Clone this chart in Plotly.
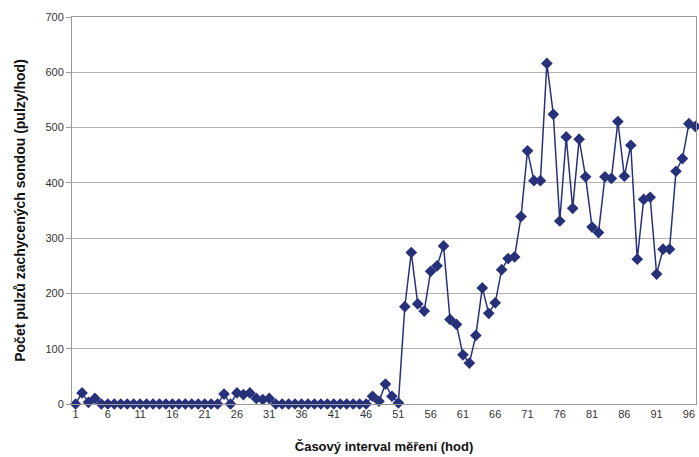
import plotly.graph_objects as go

hours = list(range(1, 98))
pulses = [
    0, 20, 3, 10, 0, 0, 0, 0, 0, 0,          # 1-10
    0, 0, 0, 0, 0, 0, 0, 0, 0, 0,            # 11-20
    0, 0, 0, 18, 0, 20, 17, 20, 10, 8,       # 21-30
    10, 0, 0, 0, 0, 0, 0, 0, 0, 0,           # 31-40
    0, 0, 0, 0, 0, 0, 14, 5, 36, 14,         # 41-50
    2, 176, 274, 181, 168, 240, 250, 286, 153, 144,   # 51-60
    89, 74, 124, 210, 164, 183, 243, 263, 266, 339,   # 61-70
    458, 404, 404, 616, 524, 331, 483, 354, 479, 411, # 71-80
    320, 310, 411, 408, 511, 412, 468, 262, 370, 374, # 81-90
    235, 280, 280, 421, 444, 507, 502                 # 91-97
]
x_ticks = list(range(1, 98, 5))
y_ticks = [0, 100, 200, 300, 400, 500, 600, 700]

color = "#27317a"

fig = go.Figure()
fig.add_trace(go.Scatter(
    x=hours, y=pulses, mode="lines+markers",
    line=dict(color=color, width=1.5),
    marker=dict(symbol="diamond", size=9, color=color),
    showlegend=False, cliponaxis=False,
))

fig.update_layout(
    width=699, height=457,
    margin=dict(l=72, r=3, t=17, b=53),
    paper_bgcolor="white", plot_bgcolor="white",
    font=dict(family="Liberation Sans, Arial, sans-serif", size=11, color="#333333"),
    xaxis=dict(
        range=[0.45, 97.1], automargin=False,
        tickvals=x_ticks, ticktext=[str(v) for v in x_ticks],
        showgrid=False, zeroline=False,
        showline=True, linecolor="#999999", linewidth=1, mirror=True,
        ticks="", tickfont=dict(size=11, color="#333333"),
        title=dict(text="<b>Časový interval měření (hod)</b>",
                   font=dict(size=13, color="#111111"), standoff=22),
    ),
    yaxis=dict(
        range=[0, 700], automargin=False,
        tickvals=y_ticks,
        showgrid=True, gridcolor="#b0b0b0", gridwidth=1,
        zeroline=False,
        showline=True, linecolor="#999999", linewidth=1, mirror=True,
        ticks="outside", ticklen=5, tickcolor="#999999",
        tickfont=dict(size=11, color="#333333"),
        title=dict(text="<b>Počet pulzů zachycených sondou (pulzy/hod)</b>",
                   font=dict(size=14, color="#111111"), standoff=16),
    ),
)

fig.write_html(
    "out.html",
    config={"displayModeBar": False},
    post_script="document.body.style.margin='0';document.body.style.overflow='hidden';",
)
